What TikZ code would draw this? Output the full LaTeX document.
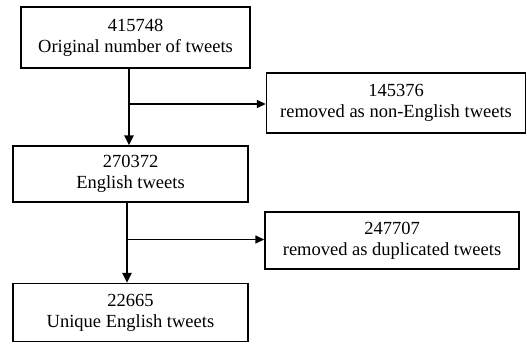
\documentclass[tikz,border=0pt]{standalone}
\usepackage{fontspec}
\setmainfont{Liberation Serif}
\usetikzlibrary{arrows.meta}
\begin{document}
\begin{tikzpicture}[x=1pt,y=-1pt,
  stagebox/.style={draw, line width=1.4pt, rectangle, align=center, inner sep=0pt,
    font=\fontsize{18.5}{21}\selectfont},
  mainarrow/.style={line width=2.6pt, -{Triangle[length=10pt,width=9pt]}},
  sidearrow/.style={line width=1.4pt, -{Triangle[length=9pt,width=8pt]}}]
\useasboundingbox (0,0) rectangle (527,343);
\node[stagebox, minimum width=229pt, minimum height=61pt] (orig) at (135.5,37.5) {415748\\Original number of tweets};
\node[stagebox, minimum width=235pt, minimum height=56pt] (eng) at (130.5,174) {270372\\English tweets};
\node[stagebox, minimum width=235pt, minimum height=58pt] (uniq) at (130.5,312.5) {22665\\Unique English tweets};
\node[stagebox, minimum width=259pt, minimum height=60pt] (rem1) at (396,103) {145376\\removed as non-English tweets};
\node[stagebox, minimum width=254pt, minimum height=57pt] (rem2) at (392,240.5) {247707\\removed as duplicated tweets};
\coordinate (b1) at (129,104);
\coordinate (b2) at (127,239.5);
\draw[mainarrow] (orig.south -| b1) -- (eng.north -| b1);
\draw[sidearrow] (b1) -- (rem1.west |- b1);
\draw[mainarrow] (eng.south -| b2) -- (uniq.north -| b2);
\draw[sidearrow] (b2) -- (rem2.west |- b2);
\end{tikzpicture}
\end{document}
